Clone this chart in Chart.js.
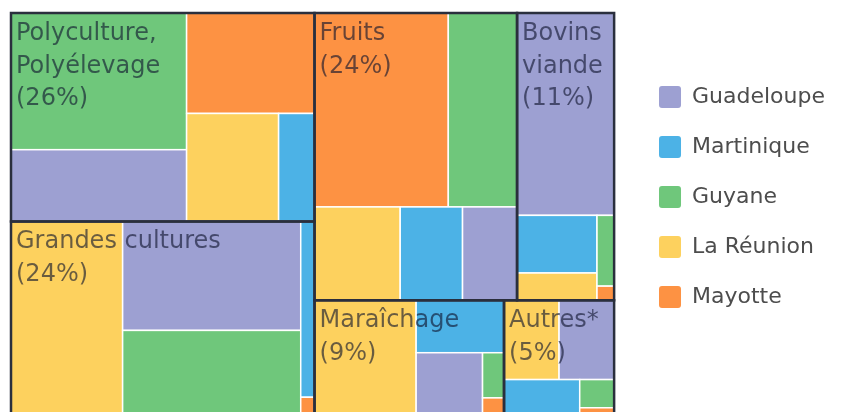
<!DOCTYPE html>
<html>
<head>
<meta charset="utf-8">
<script src="https://cdn.jsdelivr.net/npm/chart.js@4.4.1/dist/chart.umd.min.js"></script>
<style>
  html, body { margin: 0; padding: 0; background: #fff; }
</style>
</head>
<body>
<canvas id="myChart" width="845" height="412"></canvas>
<script>
// categories (top level of the treemap) and their rounded share shown in the label
var categories = ['Polyculture, Polyélevage', 'Grandes cultures', 'Fruits', 'Bovins viande', 'Maraîchage', 'Autres*'];
var shareLabels = [26, 24, 24, 11, 9, 5];

// regions, and the share of each category held by each region (% of total)
var regions = ['Guadeloupe', 'Martinique', 'Guyane', 'La Réunion', 'Mayotte'];
var guadeloupe = [5.2, 8.0, 2.1, 8.1, 1.7, 1.8];
var martinique = [1.6, 1.0, 2.4, 1.9, 1.9, 1.1];
var guyane     = [9.9, 6.2, 5.5, 0.5, 0.4, 0.4];
var reunion    = [4.1, 8.9, 3.3, 0.9, 4.8, 1.8];
var mayotte    = [5.3, 0.1, 10.7, 0.1, 0.15, 0.1];
var regionValues = [guadeloupe, martinique, guyane, reunion, mayotte];

var regionColors = ['#9da0d2', '#4cb2e6', '#6fc77b', '#fdd15e', '#fd9243'];

// how the strips are nested: 'h' = side by side, 'v' = stacked, numbers = index
var groupLayout = ['h', ['v', 0, 1], ['v', ['h', 2, 3], ['h', 4, 5]]];
var cellLayouts = [
    ['h', ['v', 2, 0], ['v', 4, ['h', 3, 1]]],
    ['h', 3, ['v', 0, 2], ['v', 1, 4]],
    ['v', ['h', 4, 2], ['h', 3, 1, 0]],
    ['v', 0, ['h', ['v', 1, 3], ['v', 2, 4]]],
    ['h', 3, ['v', 1, ['h', 0, ['v', 2, 4]]]],
    ['v', ['h', 3, 0], ['h', 1, ['v', 2, 4]]]
];

function nodeSum(node, val) {
    if (typeof node === 'number') return val(node);
    var s = 0;
    for (var i = 1; i < node.length; i++) s += nodeSum(node[i], val);
    return s;
}

function place(node, box, val, out) {
    if (typeof node === 'number') {
        out.push({ index: node, x0: box.x0, x1: box.x1, y0: box.y0, y1: box.y1 });
        return;
    }
    var total = nodeSum(node, val);
    var pos = node[0] === 'h' ? box.x0 : box.y0;
    for (var i = 1; i < node.length; i++) {
        var f = nodeSum(node[i], val) / total;
        if (node[0] === 'h') {
            var w = (box.x1 - box.x0) * f;
            place(node[i], { x0: pos, x1: pos + w, y0: box.y0, y1: box.y1 }, val, out);
            pos += w;
        } else {
            var h = (box.y1 - box.y0) * f;
            place(node[i], { x0: box.x0, x1: box.x1, y0: pos, y1: pos + h }, val, out);
            pos += h;
        }
    }
}

function categoryTotal(c) {
    var s = 0;
    regionValues.forEach(function (arr) { s += arr[c]; });
    return s;
}

function wrapText(ctx, text, maxWidth) {
    var words = text.split(' '), lines = [], line = '';
    words.forEach(function (w) {
        var test = line ? line + ' ' + w : w;
        if (line && ctx.measureText(test).width > maxWidth) {
            lines.push(line);
            line = w;
        } else {
            line = test;
        }
    });
    if (line) lines.push(line);
    return lines;
}

var treemapPlugin = {
    id: 'treemap',
    afterDatasetsDraw: function (chart) {
        var ctx = chart.ctx, xs = chart.scales.x, ys = chart.scales.y;
        var groups = [];
        place(groupLayout, { x0: 0, x1: 100, y0: 0, y1: 100 }, categoryTotal, groups);

        function px(b) {
            var l = xs.getPixelForValue(b.x0), r = xs.getPixelForValue(b.x1);
            var t = ys.getPixelForValue(b.y0), bt = ys.getPixelForValue(b.y1);
            return { x: l, y: t, w: r - l, h: bt - t };
        }

        ctx.save();
        groups.forEach(function (g) {
            var cells = [];
            place(cellLayouts[g.index], g, function (r) { return regionValues[r][g.index]; }, cells);
            cells.forEach(function (c) {
                var p = px(c);
                ctx.fillStyle = regionColors[c.index];
                ctx.fillRect(p.x, p.y, p.w, p.h);
                ctx.strokeStyle = '#ffffff';
                ctx.lineWidth = 1.5;
                ctx.strokeRect(p.x, p.y, p.w, p.h);
            });
        });

        groups.forEach(function (g) {
            var p = px(g);
            ctx.strokeStyle = '#2a2f3d';
            ctx.lineWidth = 2.5;
            ctx.strokeRect(p.x, p.y, p.w, p.h);
        });

        ctx.font = '24px "DejaVu Sans"';
        ctx.fillStyle = 'rgba(15, 20, 45, 0.62)';
        ctx.textBaseline = 'alphabetic';
        ctx.textAlign = 'left';
        groups.forEach(function (g) {
            var p = px(g);
            var lines = wrapText(ctx, categories[g.index], p.w - 14);
            lines.push('(' + shareLabels[g.index] + '%)');
            lines.forEach(function (t, i) {
                ctx.fillText(t, p.x + 5, p.y + 27 + i * 32.5);
            });
        });
        ctx.restore();
    }
};

var ctx = document.getElementById('myChart').getContext('2d');
var myChart = new Chart(ctx, {
    type: 'scatter',
    data: {
        datasets: regions.map(function (r, i) {
            return {
                label: r,
                data: [],
                backgroundColor: regionColors[i],
                borderColor: regionColors[i],
                borderWidth: 0
            };
        })
    },
    options: {
        responsive: false,
        animation: false,
        layout: { padding: { left: 11, top: 13, right: 10, bottom: 0 } },
        scales: {
            x: { type: 'linear', min: 0, max: 102.8, display: false },
            y: { type: 'linear', min: 0, max: 99.3, reverse: true, display: false }
        },
        plugins: {
            tooltip: { enabled: false },
            legend: {
                position: 'right',
                align: 'start',
                title: { display: true, text: '', font: { size: 10 }, padding: { top: 0, bottom: 33 } },
                labels: {
                    boxWidth: 22,
                    boxHeight: 22,
                    padding: 28,
                    useBorderRadius: true,
                    borderRadius: 3,
                    color: '#4d4d4d',
                    font: { family: '"DejaVu Sans"', size: 22 }
                }
            }
        }
    },
    plugins: [treemapPlugin]
});
</script>
</body>
</html>
